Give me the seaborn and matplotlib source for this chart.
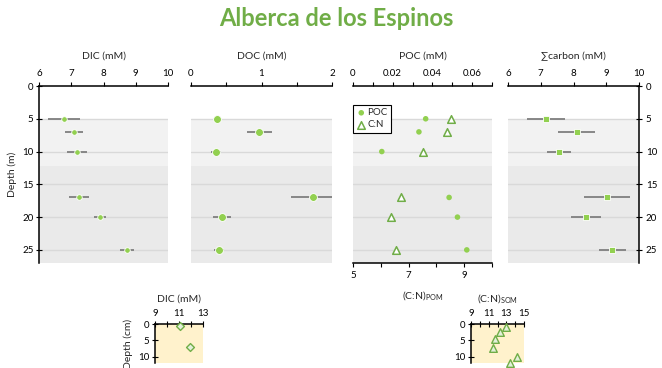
import numpy as np
import pandas as pd
import matplotlib
matplotlib.use("Agg")
import matplotlib.pyplot as plt
from matplotlib.ticker import MultipleLocator, FixedLocator
import seaborn as sns

# ---------------- data ----------------
depth_m = [5, 7, 10, 17, 20, 25]
dic = [6.77, 7.08, 7.18, 7.24, 7.89, 8.73]
dic_err = [0.49, 0.28, 0.30, 0.31, 0.20, 0.23]
doc = [0.37, 0.97, 0.355, 1.73, 0.435, 0.40]
doc_err = [0.03, 0.18, 0.07, 0.31, 0.13, 0.07]
poc = [0.0366, 0.0332, 0.0145, 0.0484, 0.0526, 0.0573]
cn_pom = [8.51, 8.37, 7.53, 6.73, 6.35, 6.54]
sumc = [7.16, 8.10, 7.55, 9.01, 8.38, 9.19]
sumc_err = [0.58, 0.57, 0.36, 0.70, 0.45, 0.40]

sed_dic_depth = [0.5, 7.0]
sed_dic = [11.12, 11.93]
sed_cn_depth = [1.0, 2.5, 4.5, 7.5, 10.0, 12.0]
sed_cn = [13.0, 12.25, 11.75, 11.5, 14.2, 13.45]

title = "Alberca de los Espinos"

# ---------------- style ----------------
sns.set_style("white")
plt.rcParams['font.family'] = ['Lato', 'DejaVu Sans']
plt.rcParams['mathtext.default'] = 'regular'

GREEN = '#92D050'
DGREEN = '#70AD47'
ERR = '#7F7F7F'
BAND1 = '#F2F2F2'
BAND2 = '#EAEAEA'
GRID = '#D9D9D9'
TICKFS = 7
LABFS = 7.5

W, H = 662, 368
fig = plt.figure(figsize=(W / 100, H / 100), dpi=100)


def px_axes(x0, x1, y0, y1):
    return fig.add_axes([x0 / W, 1 - y1 / H, (x1 - x0) / W, (y1 - y0) / H])


def setup_main(ax, xlim, xlabel):
    ax.set_ylim(27, 0)
    ax.set_xlim(*xlim)
    ax.axhspan(5, 12.2, color=BAND1, zorder=0, lw=0)
    ax.axhspan(12.2, 27, color=BAND2, zorder=0, lw=0)
    for d in [5, 10, 15, 20, 25]:
        ax.axhline(d, color=GRID, lw=1.0, zorder=0.5)
    ax.xaxis.tick_top()
    ax.xaxis.set_label_position('top')
    ax.set_xlabel(xlabel, fontsize=LABFS, labelpad=7)
    for s in ax.spines.values():
        s.set_visible(False)
    ax.spines['top'].set_visible(True)
    ax.spines['top'].set_color('black')
    ax.spines['top'].set_linewidth(1.1)
    ax.tick_params(axis='x', which='both', top=True, bottom=False, labeltop=True,
                   labelbottom=False, direction='out',
                   length=3, width=0.8, labelsize=TICKFS, pad=3, colors='black')
    ax.tick_params(axis='y', which='both', left=False, right=False, labelleft=False)
    ax.set_yticks([0, 5, 10, 15, 20, 25])
    ax.grid(False)
    ax.set_facecolor('white')


# Panel 1: DIC
ax1 = px_axes(39, 168, 86, 263)
setup_main(ax1, (6, 10), "DIC (mM)")
ax1.set_xticks([6, 7, 8, 9, 10])
ax1.spines['left'].set_visible(True)
ax1.spines['left'].set_color('black')
ax1.spines['left'].set_linewidth(1.1)
ax1.tick_params(axis='y', left=True, labelleft=True, direction='inout', length=4,
                width=0.8, labelsize=TICKFS, pad=2, colors='black')
ax1.errorbar(dic, depth_m, xerr=dic_err, fmt='none', ecolor=ERR, elinewidth=1.3, zorder=2)
sns.scatterplot(x=dic, y=depth_m, ax=ax1, color=GREEN, edgecolor='white', linewidth=0.6,
                s=16, zorder=3)
ax1.set_ylabel("Depth (m)", fontsize=LABFS, labelpad=4)

# Panel 2: DOC
ax2 = px_axes(191, 332, 86, 263)
setup_main(ax2, (0, 2), "DOC (mM)")
ax2.set_xticks([0, 1, 2])
ax2.xaxis.set_minor_locator(MultipleLocator(0.5))
ax2.errorbar(doc, depth_m, xerr=doc_err, fmt='none', ecolor=ERR, elinewidth=1.3, zorder=2)
sns.scatterplot(x=doc, y=depth_m, ax=ax2, color=GREEN, edgecolor='white', linewidth=0.6,
                s=32, zorder=3)
ax2.set_ylabel("")

# Panel 3: POC and C:N
ax3 = px_axes(353, 492, 86, 263)
ax3b = ax3.twiny()
setup_main(ax3, (0, 0.07), "POC (mM)")
ax3.set_xticks([0, 0.02, 0.04, 0.06])
ax3.set_xticklabels(["0", "0.02", "0.04", "0.06"])
ax3.xaxis.set_minor_locator(MultipleLocator(0.01))
sns.scatterplot(x=poc, y=depth_m, ax=ax3, color=GREEN, edgecolor='none', s=16, zorder=3,
                label='POC')
ax3.xaxis.tick_top()
ax3.xaxis.set_label_position('top')
ax3.set_xlabel("POC (mM)", fontsize=LABFS, labelpad=7)
ax3.set_ylabel("")

ax3b.set_xlim(5, 10)
ax3b.set_ylim(27, 0)
ax3b.xaxis.tick_bottom()
ax3b.xaxis.set_label_position('bottom')
for s in ax3b.spines.values():
    s.set_visible(False)
ax3b.spines['bottom'].set_visible(True)
ax3b.spines['bottom'].set_color('black')
ax3b.spines['bottom'].set_linewidth(1.1)
ax3b.set_xticks([5, 7, 9])
ax3b.xaxis.set_minor_locator(MultipleLocator(1))
ax3b.tick_params(axis='x', which='both', bottom=True, top=False, labeltop=False,
                 labelbottom=True, direction='out', length=3, width=0.8,
                 labelsize=TICKFS, pad=3, colors='black')
ax3b.tick_params(axis='y', left=False, right=False, labelleft=False, labelright=False)
sns.scatterplot(x=cn_pom, y=depth_m, ax=ax3b, marker='^', facecolor='white',
                edgecolor=DGREEN, linewidth=1.1, s=30, zorder=3, label='C:N')
h1, l1 = ax3.get_legend_handles_labels()
h2, l2 = ax3b.get_legend_handles_labels()
if ax3.get_legend():
    ax3.get_legend().remove()
leg = ax3b.legend(h1 + h2, l1 + l2, loc='upper left', bbox_to_anchor=(0.0, 0.893),
                  borderaxespad=0, fontsize=7, frameon=True, fancybox=False,
                  handletextpad=0.15, handlelength=1.0, borderpad=0.35, labelspacing=0.3,
                  edgecolor='black', framealpha=1)
leg.get_frame().set_linewidth(0.8)
ax3b.set_xlabel("")
ax3b.set_ylabel("")

# Panel 4: sum carbon
ax4 = px_axes(508, 639, 86, 263)
setup_main(ax4, (6, 10), "\u2211carbon (mM)")
ax4.set_xticks([6, 7, 8, 9, 10])
ax4.spines['right'].set_visible(True)
ax4.spines['right'].set_color('black')
ax4.spines['right'].set_linewidth(1.1)
ax4.yaxis.tick_right()
ax4.tick_params(axis='y', right=True, labelright=True, direction='inout', length=4,
                width=0.8, labelsize=TICKFS, pad=3, colors='black')
ax4.errorbar(sumc, depth_m, xerr=sumc_err, fmt='none', ecolor=ERR, elinewidth=1.3, zorder=2)
sns.scatterplot(x=sumc, y=depth_m, ax=ax4, marker='s', color=GREEN, edgecolor='white',
                linewidth=0.6, s=22, zorder=3)
ax4.set_ylabel("")

# ---------------- sediment panels ----------------
def setup_sed(ax, xlim, labels):
    ax.set_facecolor('#FFF2CC')
    ax.set_xlim(*xlim)
    ax.set_ylim(12, 0)
    ax.xaxis.tick_top()
    ax.xaxis.set_label_position('top')
    for s in ax.spines.values():
        s.set_visible(False)
    for side in ('top', 'left'):
        ax.spines[side].set_visible(True)
        ax.spines[side].set_color('black')
        ax.spines[side].set_linewidth(1.1)
    ax.set_xticks(labels)
    ax.xaxis.set_minor_locator(MultipleLocator(1))
    ax.set_yticks([0, 5, 10])
    ax.tick_params(axis='both', which='both', direction='inout', length=4, width=0.8,
                   labelsize=TICKFS, pad=2, colors='black', top=True, bottom=False,
                   left=True, right=False)
    ax.grid(False)


bx1 = px_axes(155, 203, 324, 363)
setup_sed(bx1, (9, 13), [9, 11, 13])
sns.scatterplot(x=sed_dic, y=sed_dic_depth, ax=bx1, marker='D', facecolor='#E2F0D9',
                edgecolor=DGREEN, linewidth=1.0, s=16, zorder=3, clip_on=False)
bx1.set_xlabel("DIC (mM)", fontsize=LABFS, labelpad=6)
bx1.set_ylabel("Depth (cm)", fontsize=LABFS, labelpad=4)

bx2 = px_axes(471, 524, 324, 363)
setup_sed(bx2, (9, 15), [9, 11, 13, 15])
sns.scatterplot(x=sed_cn, y=sed_cn_depth, ax=bx2, marker='^', facecolor='#E2F0D9',
                edgecolor=DGREEN, linewidth=1.0, s=30, zorder=3, clip_on=False)
bx2.set_xlabel("(C:N)$_{SOM}$", fontsize=LABFS, labelpad=6)
bx2.set_ylabel("")

fig.text(423 / W, 1 - 296 / H, "(C:N)$_{POM}$", fontsize=LABFS, ha='center', va='center')

fig.text(336 / W, 1 - 19 / H, title, fontsize=17, fontweight='bold', color='#70AD47',
         ha='center', va='center')

fig.savefig("out.png", dpi=100)
